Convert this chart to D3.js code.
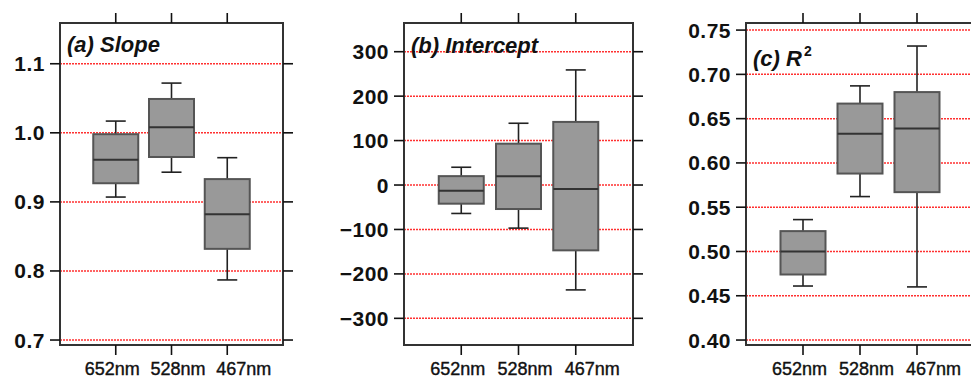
<!DOCTYPE html>
<html lang="en">
<head>
  <meta charset="UTF-8">
  <title>Slope / Intercept / R2 box plots</title>
  <style>
    body { margin: 0; padding: 0; background: #fff; }
    svg { display: block; font-family: "Liberation Sans", Arial, sans-serif; }
    .ylab { font-size: 21px; font-weight: bold; fill: #111; letter-spacing: 0.5px; }
    .xlab { font-size: 18px; fill: #111; stroke: #111; stroke-width: 0.4; }
    .title { font-size: 22px; font-weight: bold; font-style: italic; fill: #111; }
    .grid { stroke: #ff3030; stroke-width: 1.5; stroke-dasharray: 2,1; }
    .box { fill: #999; stroke: #555; stroke-width: 2; }
    .median { stroke: #333; stroke-width: 2; }
    .whisk { stroke: #222; stroke-width: 1.6; }
    .frame { fill: none; stroke: #333; stroke-width: 2; }
    .tick { stroke: #111; stroke-width: 1.6; }
  </style>
</head>
<body>
  <svg id="chart" width="971" height="378"></svg>

  <script src="https://d3js.org/d3.v7.min.js"></script>
  <script>
  (function(){
    // categories (wavelengths)
    const categories = ["652nm", "528nm", "467nm"];

    // box stats per category: [low whisker, Q1, median, Q3, high whisker]
    const slopeStats = [
      [0.907, 0.927, 0.961, 0.998, 1.017],
      [0.943, 0.965, 1.008, 1.049, 1.072],
      [0.787, 0.832, 0.882, 0.933, 0.964]
    ];
    const interceptStats = [
      [-64, -42, -13, 20, 40],
      [-97, -54, 20, 93, 139],
      [-236, -147, -9, 142, 259]
    ];
    const r2Stats = [
      [0.461, 0.474, 0.500, 0.523, 0.536],
      [0.562, 0.588, 0.633, 0.667, 0.687],
      [0.460, 0.567, 0.639, 0.680, 0.732]
    ];

    // tick values
    const slopeTicks     = [0.7, 0.8, 0.9, 1.0, 1.1];
    const interceptTicks = [-300, -200, -100, 0, 100, 200, 300];
    const r2Ticks        = [0.40, 0.45, 0.50, 0.55, 0.60, 0.65, 0.70, 0.75];

    const panels = [
      { title: "(a) Slope", sup: null, stats: slopeStats, ticks: slopeTicks,
        domain: [0.6928, 1.159], fmt: d3.format(".1f"),
        x0: 60, x1: 283, titleY: 52 },
      { title: "(b) Intercept", sup: null, stats: interceptStats, ticks: interceptTicks,
        domain: [-360, 364.6], fmt: d3.format("d"),
        x0: 404, x1: 633, titleY: 53 },
      { title: "(c) R", sup: "2", stats: r2Stats, ticks: r2Ticks,
        domain: [0.3944, 0.758], fmt: d3.format(".2f"),
        x0: 746, x1: 974, titleY: 66 }
    ];

    const svg = d3.select("#chart"),
          top = 23, bottom = 345,
          tickLen = 10, boxW = 45, capW = 20;

    panels.forEach(p => {
      const g = svg.append("g");

      const x = d3.scalePoint().domain(categories).range([p.x0, p.x1]).padding(1);
      const y = d3.scaleLinear().domain(p.domain).range([bottom, top]);

      // red dotted grid
      g.append("g").selectAll("line")
        .data(p.ticks)
        .join("line")
          .attr("class", "grid")
          .attr("x1", p.x0).attr("x2", p.x1)
          .attr("y1", y).attr("y2", y);

      // boxes
      const box = g.append("g").selectAll("g")
        .data(p.stats)
        .join("g")
          .attr("transform", (d, i) => `translate(${x(categories[i])},0)`);

      box.append("line").attr("class", "whisk")
          .attr("y1", d => y(d[0])).attr("y2", d => y(d[1]));
      box.append("line").attr("class", "whisk")
          .attr("y1", d => y(d[3])).attr("y2", d => y(d[4]));
      box.append("line").attr("class", "whisk")
          .attr("x1", -capW / 2).attr("x2", capW / 2)
          .attr("y1", d => y(d[0])).attr("y2", d => y(d[0]));
      box.append("line").attr("class", "whisk")
          .attr("x1", -capW / 2).attr("x2", capW / 2)
          .attr("y1", d => y(d[4])).attr("y2", d => y(d[4]));
      box.append("rect").attr("class", "box")
          .attr("x", -boxW / 2).attr("width", boxW)
          .attr("y", d => y(d[3]))
          .attr("height", d => y(d[1]) - y(d[3]));
      box.append("line").attr("class", "median")
          .attr("x1", -boxW / 2).attr("x2", boxW / 2)
          .attr("y1", d => y(d[2])).attr("y2", d => y(d[2]));

      // frame
      g.append("rect").attr("class", "frame")
        .attr("x", p.x0).attr("y", top)
        .attr("width", p.x1 - p.x0).attr("height", bottom - top);

      // y ticks, left and right
      g.append("g").selectAll("line")
        .data(p.ticks)
        .join("line").attr("class", "tick")
          .attr("x1", p.x0 - tickLen).attr("x2", p.x0)
          .attr("y1", y).attr("y2", y);
      g.append("g").selectAll("line")
        .data(p.ticks)
        .join("line").attr("class", "tick")
          .attr("x1", p.x1).attr("x2", p.x1 + tickLen)
          .attr("y1", y).attr("y2", y);

      g.append("g").selectAll("text")
        .data(p.ticks)
        .join("text").attr("class", "ylab")
          .attr("x", p.x0 - tickLen - 5)
          .attr("y", d => y(d) + 7.5)
          .attr("text-anchor", "end")
          .text(p.fmt);

      // x ticks, top and bottom
      g.append("g").selectAll("line")
        .data(categories)
        .join("line").attr("class", "tick")
          .attr("x1", d => x(d)).attr("x2", d => x(d))
          .attr("y1", top - tickLen).attr("y2", top);
      g.append("g").selectAll("line")
        .data(categories)
        .join("line").attr("class", "tick")
          .attr("x1", d => x(d)).attr("x2", d => x(d))
          .attr("y1", bottom).attr("y2", bottom + tickLen);

      // labels sit a little wider apart than the ticks
      g.append("g").selectAll("text")
        .data(categories)
        .join("text").attr("class", "xlab")
          .attr("x", (d, i) => x(d) + 6.5 + (i - 1) * 10)
          .attr("y", 375)
          .attr("text-anchor", "middle")
          .text(d => d);

      // panel title
      const t = g.append("text").attr("class", "title")
        .attr("x", p.x0 + 7)
        .attr("y", p.titleY)
        .text(p.title);
      if (p.sup) {
        t.append("tspan")
          .attr("dy", -10)
          .attr("dx", 2)
          .style("font-size", "14px")
          .style("font-style", "normal")
          .text(p.sup);
      }
    });
  })();
  </script>
</body>
</html>
